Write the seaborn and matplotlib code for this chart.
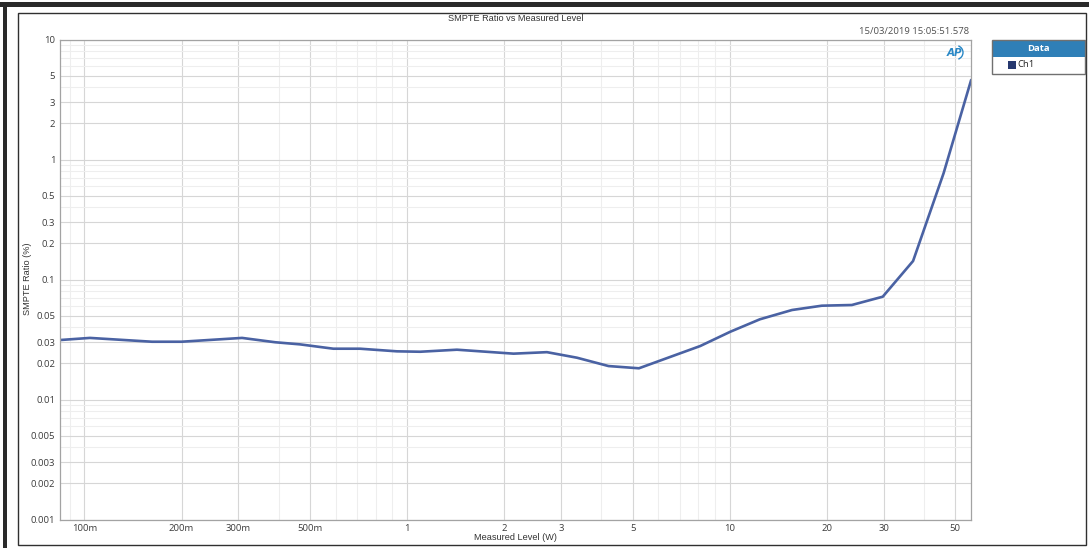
import matplotlib
matplotlib.use("Agg")
import matplotlib.pyplot as plt
from matplotlib.patches import Rectangle, Arc
from matplotlib.ticker import FixedLocator, FixedFormatter, NullFormatter
import pandas as pd
import seaborn as sns

# Measured output level (W) and SMPTE IMD ratio (%)
level_w = [0.084, 0.104, 0.162, 0.200, 0.308, 0.390, 0.466, 0.591, 0.715,
           0.930, 1.098, 1.427, 2.137, 2.713, 3.36, 4.21, 5.23, 8.10,
           10.04, 12.4, 15.6, 19.3, 23.9, 29.8, 37.0, 46.0, 56.0]
smpte_pct = [0.0313, 0.0326, 0.0303, 0.0303, 0.0326, 0.0300, 0.0288, 0.0265,
             0.0265, 0.0252, 0.0250, 0.0260, 0.0241, 0.0248, 0.0223, 0.0190,
             0.0182, 0.0279, 0.0367, 0.0466, 0.0557, 0.0605, 0.0613, 0.0719,
             0.1426, 0.768, 4.6]

x_ticks = [0.1, 0.2, 0.3, 0.5, 1, 2, 3, 5, 10, 20, 30, 50]
x_tick_labels = ["100m", "200m", "300m", "500m", "1", "2", "3", "5",
                 "10", "20", "30", "50"]
x_minor = [0.09, 0.4, 0.6, 0.7, 0.8, 0.9, 4, 6, 7, 8, 9, 40]

y_ticks = [0.001, 0.002, 0.003, 0.005, 0.01, 0.02, 0.03, 0.05, 0.1, 0.2,
           0.3, 0.5, 1, 2, 3, 5, 10]
y_tick_labels = ["0.001", "0.002", "0.003", "0.005", "0.01", "0.02", "0.03",
                 "0.05", "0.1", "0.2", "0.3", "0.5", "1", "2", "3", "5", "10"]
y_minor = [m * 10.0 ** e for e in range(-3, 1) for m in (4, 6, 7, 8, 9)]

series_name = "Ch1"
title_text = "SMPTE Ratio vs Measured Level"
timestamp = "15/03/2019 15:05:51.578"

df = pd.DataFrame({"level": level_w, "ratio": smpte_pct, "channel": series_name})

sns.set_theme(style="white")
plt.rcParams["font.family"] = ["Open Sans", "DejaVu Sans"]

W, H = 1089, 548
fig = plt.figure(figsize=(W / 100, H / 100), dpi=100)
fig.patch.set_facecolor("white")


def fx(x):
    return x / W


def fy(y):
    return 1 - y / H


ax = fig.add_axes([fx(60), fy(519.5), fx(971.4) - fx(60), fy(39.5) - fy(519.5)])

line_color = "#4a62a3"
sns.lineplot(data=df, x="level", y="ratio", ax=ax, color=line_color,
             linewidth=1.9, legend=False, sort=False)

ax.set_xscale("log")
ax.set_yscale("log")
ax.set_xlim(0.0840, 56.1)
ax.set_ylim(0.001, 10)

ax.xaxis.set_major_locator(FixedLocator(x_ticks))
ax.xaxis.set_major_formatter(FixedFormatter(x_tick_labels))
ax.xaxis.set_minor_locator(FixedLocator(x_minor))
ax.xaxis.set_minor_formatter(NullFormatter())
ax.yaxis.set_major_locator(FixedLocator(y_ticks))
ax.yaxis.set_major_formatter(FixedFormatter(y_tick_labels))
ax.yaxis.set_minor_locator(FixedLocator(y_minor))
ax.yaxis.set_minor_formatter(NullFormatter())

ax.grid(True, which="major", color="#d6d6d6", linewidth=0.8)
ax.grid(True, which="minor", color="#eeeeee", linewidth=0.8)
ax.set_axisbelow(True)

ax.tick_params(which="both", length=0, labelsize=6.8, labelcolor="#3c3c3c")
ax.tick_params(axis="y", pad=3.5)
ax.tick_params(axis="x", pad=3.5)
for s in ax.spines.values():
    s.set_color("#a3a3a3")
    s.set_linewidth(0.9)

ax.set_xlabel("")
ax.set_ylabel("")

label_font = ["Liberation Sans", "DejaVu Sans"]
fig.text(fx(515), fy(537), "Measured Level (W)", ha="center", va="center",
         fontsize=6.6, color="#333333", family=label_font)
fig.text(fx(27), fy(279), "SMPTE Ratio (%)", ha="center", va="center",
         rotation=90, fontsize=6.6, color="#333333", family=label_font)
fig.text(fx(516), fy(18.5), title_text, ha="center", va="center",
         fontsize=6.6, color="#333333", family=label_font)
fig.text(fx(969.5), fy(31.5), timestamp, ha="right", va="center",
         fontsize=6.8, color="#505050")

# Window frame
fig.add_artist(Rectangle((fx(0), fy(6.5)), 1, fy(2) - fy(6.5),
                         transform=fig.transFigure, facecolor="#2a2a2a",
                         edgecolor="none"))
fig.add_artist(Rectangle((fx(2.5), 0), fx(6.5) - fx(2.5), fy(2),
                         transform=fig.transFigure, facecolor="#2a2a2a",
                         edgecolor="none"))
fig.add_artist(Rectangle((fx(18), fy(545)), fx(1086) - fx(18), fy(13) - fy(545),
                         transform=fig.transFigure, facecolor="none",
                         edgecolor="#303030", linewidth=1.0))

# Legend panel
lx0, lx1, ly0, ly1, lyh = 991.5, 1084.5, 40.5, 73.5, 57
fig.add_artist(Rectangle((fx(lx0), fy(lyh)), fx(lx1) - fx(lx0), fy(ly0) - fy(lyh),
                         transform=fig.transFigure, facecolor="#2f7fb7",
                         edgecolor="none"))
fig.add_artist(Rectangle((fx(lx0), fy(ly1)), fx(lx1) - fx(lx0), fy(ly0) - fy(ly1),
                         transform=fig.transFigure, facecolor="none",
                         edgecolor="#707070", linewidth=1.0))
fig.text(fx((lx0 + lx1) / 2), fy(48.8), "Data", ha="center", va="center",
         fontsize=6.8, color="white", fontweight="bold")
fig.add_artist(Rectangle((fx(1007.5), fy(68.5)), fx(1015.5) - fx(1007.5),
                         fy(60.5) - fy(68.5), transform=fig.transFigure,
                         facecolor="#26386f", edgecolor="none"))
fig.text(fx(1017), fy(64.8), series_name, ha="left", va="center",
         fontsize=6.8, color="#222222")

# Small brand mark in the plot corner
fig.text(fx(954), fy(52.5), "AP", ha="center", va="center", fontsize=7.5,
         color="#2a88c6", fontweight="bold", fontstyle="italic",
         family=["DejaVu Sans"])
fig.add_artist(Arc((fx(956), fy(52.5)), fx(14), fx(14) * W / H, theta1=-80,
                   theta2=80, transform=fig.transFigure, color="#2a88c6",
                   linewidth=1.0))

fig.savefig("out.png", dpi=100, facecolor="white")
